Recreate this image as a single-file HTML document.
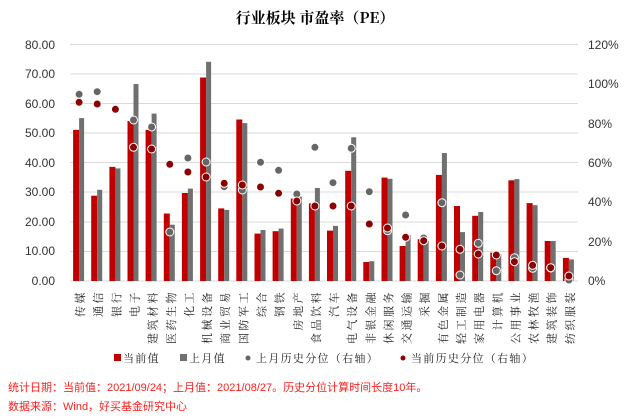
<!DOCTYPE html>
<html><head><meta charset="utf-8"><style>
body{margin:0;background:#fff}
svg{display:block;font-family:"Liberation Sans","Noto Sans CJK SC",sans-serif}
.lab{font-family:"Noto Serif CJK SC","Liberation Serif",serif;font-size:11px;letter-spacing:2.5px}
.leg{font-family:"Noto Serif CJK SC","Liberation Serif",serif;font-size:11px;letter-spacing:1.3px}
</style></head><body>
<svg width="630" height="420" viewBox="0 0 630 420" xmlns="http://www.w3.org/2000/svg">
<text x="315" y="23" text-anchor="middle" font-family="'Noto Serif CJK SC','Liberation Serif',serif" font-weight="bold" font-size="15" fill="#000">行业板块 市盈率（PE）</text>
<g stroke="#d9d9d9" stroke-width="1">
<line x1="70" x2="578" y1="44.5" y2="44.5"/><line x1="70" x2="578" y1="74" y2="74"/><line x1="70" x2="578" y1="103.5" y2="103.5"/><line x1="70" x2="578" y1="133" y2="133"/><line x1="70" x2="578" y1="162.5" y2="162.5"/><line x1="70" x2="578" y1="192" y2="192"/><line x1="70" x2="578" y1="222" y2="222"/><line x1="70" x2="578" y1="251.5" y2="251.5"/><line x1="70" x2="578" y1="281" y2="281"/>
</g>
<g font-size="12" fill="#333" text-anchor="end">
<text x="55" y="49">80.00</text><text x="55" y="78">70.00</text><text x="55" y="108">60.00</text><text x="55" y="137">50.00</text><text x="55" y="167">40.00</text><text x="55" y="196">30.00</text><text x="55" y="226">20.00</text><text x="55" y="255">10.00</text><text x="55" y="285">0.00</text>
</g>
<g font-size="12" fill="#333">
<text x="588" y="49">120%</text><text x="588" y="88">100%</text><text x="588" y="128">80%</text><text x="588" y="167">60%</text><text x="588" y="206">40%</text><text x="588" y="246">20%</text><text x="588" y="285">0%</text>
</g>
<g fill="#c00000">
<rect x="73.1" y="129.9" width="6" height="151.1"/><rect x="91.2" y="195.7" width="6" height="85.3"/><rect x="109.4" y="166.9" width="6" height="114.1"/><rect x="127.5" y="121" width="6" height="160"/><rect x="145.6" y="129.9" width="6" height="151.1"/><rect x="163.8" y="213.5" width="6" height="67.5"/><rect x="181.9" y="193" width="6" height="88"/><rect x="200.1" y="77.5" width="6" height="203.5"/><rect x="218.2" y="208.4" width="6" height="72.6"/><rect x="236.3" y="119.5" width="6" height="161.5"/><rect x="254.5" y="233.6" width="6" height="47.4"/><rect x="272.6" y="231.2" width="6" height="49.8"/><rect x="290.8" y="198.6" width="6" height="82.4"/><rect x="308.9" y="203.4" width="6" height="77.6"/><rect x="327" y="230.6" width="6" height="50.4"/><rect x="345.2" y="170.8" width="6" height="110.2"/><rect x="363.3" y="262" width="6" height="19"/><rect x="381.5" y="177.6" width="6" height="103.4"/><rect x="399.6" y="246" width="6" height="35"/><rect x="417.7" y="239.2" width="6" height="41.8"/><rect x="435.9" y="174.9" width="6" height="106.1"/><rect x="454" y="206" width="6" height="75"/><rect x="472.2" y="215.8" width="6" height="65.2"/><rect x="490.3" y="252.6" width="6" height="28.4"/><rect x="508.4" y="180.3" width="6" height="100.7"/><rect x="526.6" y="203.1" width="6" height="77.9"/><rect x="544.7" y="241" width="6" height="40"/><rect x="562.9" y="257.9" width="6" height="23.1"/>
</g>
<g fill="#707070">
<rect x="79.1" y="118.1" width="5" height="162.9"/><rect x="97.2" y="189.8" width="5" height="91.2"/><rect x="115.4" y="168.4" width="5" height="112.6"/><rect x="133.5" y="84" width="5" height="197"/><rect x="151.6" y="113.6" width="5" height="167.4"/><rect x="169.8" y="224.7" width="5" height="56.3"/><rect x="187.9" y="188.6" width="5" height="92.4"/><rect x="206.1" y="61.8" width="5" height="219.2"/><rect x="224.2" y="209.9" width="5" height="71.1"/><rect x="242.3" y="123.1" width="5" height="157.9"/><rect x="260.5" y="230" width="5" height="51"/><rect x="278.6" y="228.6" width="5" height="52.4"/><rect x="296.8" y="196.6" width="5" height="84.4"/><rect x="314.9" y="188" width="5" height="93"/><rect x="333" y="225.9" width="5" height="55.1"/><rect x="351.2" y="137.3" width="5" height="143.7"/><rect x="369.3" y="261.2" width="5" height="19.8"/><rect x="387.5" y="178.8" width="5" height="102.2"/><rect x="405.6" y="235.1" width="5" height="45.9"/><rect x="423.7" y="241" width="5" height="40"/><rect x="441.9" y="153" width="5" height="128"/><rect x="460" y="232.1" width="5" height="48.9"/><rect x="478.2" y="212" width="5" height="69"/><rect x="496.3" y="254" width="5" height="27"/><rect x="514.4" y="179.1" width="5" height="101.9"/><rect x="532.6" y="205.2" width="5" height="75.8"/><rect x="550.7" y="241" width="5" height="40"/><rect x="568.9" y="259.4" width="5" height="21.6"/>
</g>
<g fill="#666" stroke="#fff" stroke-width="1">
<circle cx="79.1" cy="94.3" r="4"/><circle cx="97.2" cy="91.7" r="4"/><circle cx="115.4" cy="109.3" r="4"/><circle cx="133.5" cy="120" r="4"/><circle cx="151.6" cy="127" r="4"/><circle cx="169.8" cy="232" r="4"/><circle cx="187.9" cy="158" r="4"/><circle cx="206.1" cy="162" r="4"/><circle cx="224.2" cy="186.7" r="4"/><circle cx="242.3" cy="190" r="4"/><circle cx="260.5" cy="162.3" r="4"/><circle cx="278.6" cy="170.3" r="4"/><circle cx="296.8" cy="194" r="4"/><circle cx="314.9" cy="147.3" r="4"/><circle cx="333" cy="182.7" r="4"/><circle cx="351.2" cy="148.3" r="4"/><circle cx="369.3" cy="191.7" r="4"/><circle cx="387.5" cy="230.7" r="4"/><circle cx="405.6" cy="215" r="4"/><circle cx="423.7" cy="238" r="4"/><circle cx="441.9" cy="202.7" r="4"/><circle cx="460" cy="275" r="4"/><circle cx="478.2" cy="243.3" r="4"/><circle cx="496.3" cy="270.7" r="4"/><circle cx="514.4" cy="257.7" r="4"/><circle cx="532.6" cy="268.3" r="4"/><circle cx="550.7" cy="268" r="4"/><circle cx="568.9" cy="280" r="4"/>
</g>
<g fill="#8b0000" stroke="#fff" stroke-width="1">
<circle cx="79.1" cy="102.3" r="4"/><circle cx="97.2" cy="104" r="4"/><circle cx="115.4" cy="109.3" r="4"/><circle cx="133.5" cy="147.3" r="4"/><circle cx="151.6" cy="149" r="4"/><circle cx="169.8" cy="164.3" r="4"/><circle cx="187.9" cy="172" r="4"/><circle cx="206.1" cy="177" r="4"/><circle cx="224.2" cy="183.3" r="4"/><circle cx="242.3" cy="185" r="4"/><circle cx="260.5" cy="187" r="4"/><circle cx="278.6" cy="193.3" r="4"/><circle cx="296.8" cy="201" r="4"/><circle cx="314.9" cy="206" r="4"/><circle cx="333" cy="206" r="4"/><circle cx="351.2" cy="206" r="4"/><circle cx="369.3" cy="224" r="4"/><circle cx="387.5" cy="228" r="4"/><circle cx="405.6" cy="237.3" r="4"/><circle cx="423.7" cy="240.7" r="4"/><circle cx="441.9" cy="246" r="4"/><circle cx="460" cy="249.3" r="4"/><circle cx="478.2" cy="254" r="4"/><circle cx="496.3" cy="255" r="4"/><circle cx="514.4" cy="261.7" r="4"/><circle cx="532.6" cy="265.3" r="4"/><circle cx="550.7" cy="267.7" r="4"/><circle cx="568.9" cy="276" r="4"/>
</g>
<g class="lab" fill="#222" text-anchor="end">
<text transform="translate(84.1,290) rotate(-90)">传媒</text><text transform="translate(102.2,290) rotate(-90)">通信</text><text transform="translate(120.4,290) rotate(-90)">银行</text><text transform="translate(138.5,290) rotate(-90)">电子</text><text transform="translate(156.6,290) rotate(-90)">建筑材料</text><text transform="translate(174.8,290) rotate(-90)">医药生物</text><text transform="translate(192.9,290) rotate(-90)">化工</text><text transform="translate(211.1,290) rotate(-90)">机械设备</text><text transform="translate(229.2,290) rotate(-90)">商业贸易</text><text transform="translate(247.3,290) rotate(-90)">国防军工</text><text transform="translate(265.5,290) rotate(-90)">综合</text><text transform="translate(283.6,290) rotate(-90)">钢铁</text><text transform="translate(301.8,290) rotate(-90)">房地产</text><text transform="translate(319.9,290) rotate(-90)">食品饮料</text><text transform="translate(338,290) rotate(-90)">汽车</text><text transform="translate(356.2,290) rotate(-90)">电气设备</text><text transform="translate(374.3,290) rotate(-90)">非银金融</text><text transform="translate(392.5,290) rotate(-90)">休闲服务</text><text transform="translate(410.6,290) rotate(-90)">交通运输</text><text transform="translate(428.7,290) rotate(-90)">采掘</text><text transform="translate(446.9,290) rotate(-90)">有色金属</text><text transform="translate(465,290) rotate(-90)">轻工制造</text><text transform="translate(483.2,290) rotate(-90)">家用电器</text><text transform="translate(501.3,290) rotate(-90)">计算机</text><text transform="translate(519.4,290) rotate(-90)">公用事业</text><text transform="translate(537.6,290) rotate(-90)">农林牧渔</text><text transform="translate(555.7,290) rotate(-90)">建筑装饰</text><text transform="translate(573.9,290) rotate(-90)">纺织服装</text>
</g>
<g class="leg" fill="#222">
<rect x="114" y="354" width="7" height="7" fill="#c00000"/><text x="123" y="362">当前值</text>
<rect x="180" y="354" width="7" height="7" fill="#707070"/><text x="189" y="362">上月值</text>
<circle cx="248" cy="358" r="2.5" fill="#666"/><text x="256" y="362">上月历史分位（右轴）</text>
<circle cx="403" cy="358" r="2.5" fill="#8b0000"/><text x="411" y="362">当前历史分位（右轴）</text>
</g>
<g font-size="11" fill="#ff2020">
<text x="8" y="391">统计日期：当前值：2021/09/24；上月值：2021/08/27。历史分位计算时间长度10年。</text>
<text x="8" y="410">数据来源：Wind，好买基金研究中心</text>
</g>
</svg>
</body></html>
